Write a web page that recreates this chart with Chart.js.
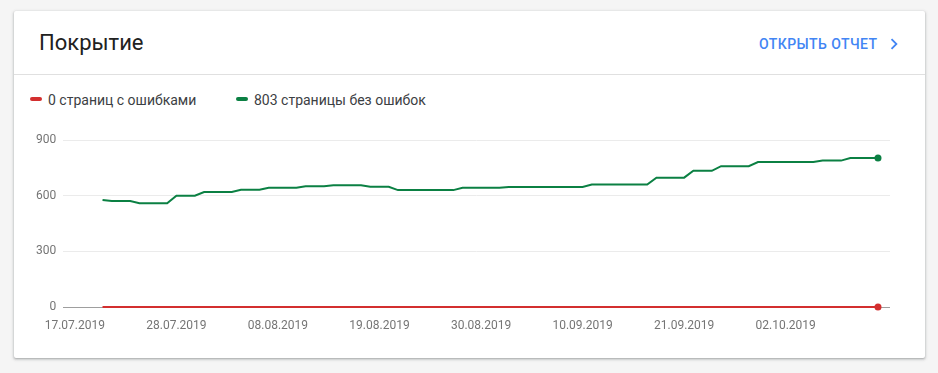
<!DOCTYPE html>
<html>
<head>
<meta charset="utf-8">
<script src="https://cdn.jsdelivr.net/npm/chart.js@4"></script>
<style>
  body { margin: 0; background: #f5f5f5; font-family: Roboto, "Noto Sans", sans-serif; }
  .card {
    position: absolute; left: 14px; top: 11px; width: 911px; height: 347px;
    background: #fff; border-radius: 2px;
    box-shadow: 0 1px 2px rgba(60,64,67,.3), 0 1px 3px 1px rgba(60,64,67,.15);
  }
  .title { position: absolute; left: 25px; top: 21px; font-size: 22px; line-height: 22px; color: #212121; }
  .open {
    position: absolute; left: 745px; top: 25.5px; font-size: 14px; line-height: 14px;
    font-weight: 500; letter-spacing: 0.45px; color: #4285f4;
  }
  .chev { position: absolute; left: 869px; top: 21.5px; width: 22px; height: 22px; }
  .divider { position: absolute; left: 0; top: 63px; width: 100%; height: 1px; background: #e0e0e0; }
  .legend-dash { position: absolute; top: 86px; width: 12px; height: 4px; border-radius: 2px; }
  .legend-text { position: absolute; top: 81.5px; font-size: 14px; line-height: 14px; color: #3c4043; }
  .chart-box { position: absolute; left: 0; top: 109px; width: 911px; height: 235px; }
</style>
</head>
<body>
<div class="card">
  <div class="title">Покрытие</div>
  <div class="open">ОТКРЫТЬ ОТЧЕТ</div>
  <svg class="chev" viewBox="0 0 24 24"><path fill="#4285f4" d="M10 6L8.59 7.41 13.17 12l-4.58 4.59L10 18l6-6z"/></svg>
  <div class="divider"></div>
  <div id="legend"></div>
  <div class="chart-box"><canvas id="coverageChart"></canvas></div>
</div>
<script>
// Coverage chart (Search Console style)

const originDate = '17.07.2019';   // first x tick
const firstDataDate = '20.07.2019';

const seriesLabels = ['0 страниц с ошибками', '803 страницы без ошибок'];
const seriesColors = ['#d32f2f', '#0b8043'];

const xTickLabels = ['17.07.2019', '28.07.2019', '08.08.2019', '19.08.2019',
                     '30.08.2019', '10.09.2019', '21.09.2019', '02.10.2019'];
const yTicks = [0, 300, 600, 900];

// pages with errors, one per day from 20.07.2019
const errorPages = [
    0, 0, 0, 0, 0, 0, 0, 0, 0, 0, 0, 0, 0, 0, 0, 0, 0,
    0, 0, 0, 0, 0, 0, 0, 0, 0, 0, 0, 0, 0, 0, 0, 0, 0,
    0, 0, 0, 0, 0, 0, 0, 0, 0, 0, 0, 0, 0, 0, 0, 0, 0,
    0, 0, 0, 0, 0, 0, 0, 0, 0, 0, 0, 0, 0, 0, 0, 0, 0,
    0, 0, 0, 0, 0, 0, 0, 0, 0, 0, 0, 0, 0, 0, 0, 0, 0
];

// valid pages, one per day from 20.07.2019
const validPages = [
    577, 571, 571, 571, 559, 559, 559, 559, 600, 600, 600, 620, 620, 620, 620, 632, 632,
    632, 643, 643, 643, 643, 651, 651, 651, 656, 656, 656, 656, 648, 648, 648, 630, 630,
    630, 630, 630, 630, 630, 643, 643, 643, 643, 643, 647, 647, 647, 647, 647, 647, 647,
    647, 647, 660, 660, 660, 660, 660, 660, 660, 697, 697, 697, 697, 734, 734, 734, 759,
    759, 759, 759, 781, 781, 781, 781, 781, 781, 781, 789, 789, 789, 803, 803, 803, 803
];

function parseDate(str) {
    const p = str.split('.');
    return Date.UTC(parseInt(p[2]), parseInt(p[1]) - 1, parseInt(p[0]));
}

const DAY = 24 * 60 * 60 * 1000;
const originMs = parseDate(originDate);
const startOffset = (parseDate(firstDataDate) - originMs) / DAY;

function dayIndex(str) {
    return (parseDate(str) - originMs) / DAY;
}

function formatDay(idx) {
    const d = new Date(originMs + idx * DAY);
    const dd = String(d.getUTCDate()).padStart(2, '0');
    const mm = String(d.getUTCMonth() + 1).padStart(2, '0');
    return dd + '.' + mm + '.' + d.getUTCFullYear();
}

function toPoints(values) {
    return values.map((v, i) => ({ x: startOffset + i, y: v }));
}

function lastDot(values) {
    return values.map((v, i) => i === values.length - 1 ? 3.5 : 0);
}

// HTML legend
const legendEl = document.getElementById('legend');
const dashLefts = [16, 222];
const textLefts = [34, 240];
seriesLabels.forEach((label, i) => {
    legendEl.innerHTML += `
        <div class="legend-dash" style="left:${dashLefts[i]}px;background:${seriesColors[i]}"></div>
        <div class="legend-text" style="left:${textLefts[i]}px">${label}</div>`;
});

const ctx = document.getElementById('coverageChart').getContext('2d');
new Chart(ctx, {
    type: 'line',
    data: {
        datasets: [
            {
                label: seriesLabels[0],
                data: toPoints(errorPages),
                borderColor: seriesColors[0],
                backgroundColor: seriesColors[0],
                borderWidth: 2,
                pointRadius: lastDot(errorPages),
                pointBorderWidth: 0,
                tension: 0,
                clip: false
            },
            {
                label: seriesLabels[1],
                data: toPoints(validPages),
                borderColor: seriesColors[1],
                backgroundColor: seriesColors[1],
                borderWidth: 2,
                pointRadius: lastDot(validPages),
                pointBorderWidth: 0,
                tension: 0,
                clip: false
            }
        ]
    },
    options: {
        responsive: true,
        maintainAspectRatio: false,
        animation: false,
        layout: { padding: { left: 0, right: 35, top: 20, bottom: 18 } },
        plugins: {
            legend: { display: false },
            tooltip: { enabled: false }
        },
        scales: {
            x: {
                type: 'linear',
                min: -1.25,
                max: 88.3,
                afterBuildTicks: scale => {
                    scale.ticks = xTickLabels.map(l => ({ value: dayIndex(l) }));
                },
                afterFit: scale => { scale.height = 30; },
                grid: { display: false, drawTicks: false },
                border: { display: false },
                ticks: {
                    autoSkip: false,
                    maxRotation: 0,
                    padding: 12,
                    color: '#757575',
                    font: { family: 'Roboto', size: 12 },
                    callback: value => formatDay(value)
                }
            },
            y: {
                min: 0,
                max: 900,
                afterBuildTicks: scale => {
                    scale.ticks = yTicks.map(v => ({ value: v }));
                },
                afterFit: scale => { scale.width = 49.3; },
                grid: {
                    drawTicks: false,
                    color: c => c.tick && c.tick.value === 0 ? '#9e9e9e' : '#ebebeb'
                },
                border: { display: false },
                ticks: {
                    padding: 7,
                    color: '#757575',
                    font: { family: 'Roboto', size: 12 }
                }
            }
        }
    }
});
</script>
</body>
</html>
